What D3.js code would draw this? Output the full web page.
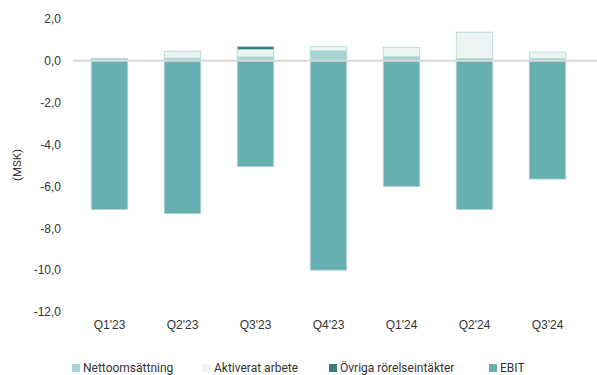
<!DOCTYPE html>
<html>
<head>
<meta charset="utf-8">
<script src="https://cdn.jsdelivr.net/npm/d3@7"></script>
<style>
  html, body { margin: 0; padding: 0; background: #fff; }
  svg { display: block; font-family: Roboto, "Noto Sans", sans-serif; }
</style>
</head>
<body>
<svg id="chart" width="597" height="375"></svg>
<script>
// Quarterly figures, MSEK
const quarters = ["Q1'23", "Q2'23", "Q3'23", "Q4'23", "Q1'24", "Q2'24", "Q3'24"];
const nettoomsattning = [0.12, 0.13, 0.19, 0.48, 0.20, 0.11, 0.12];
const aktiveratArbete = [0.00, 0.33, 0.35, 0.20, 0.44, 1.26, 0.30];
const ovrigaIntakter = [0.00, 0.00, 0.14, 0.00, 0.00, 0.00, 0.00];
const ebit = [-7.1, -7.3, -5.05, -10.0, -6.0, -7.1, -5.65];
const yTicks = [2, 0, -2, -4, -6, -8, -10, -12];

const seriesNames = ["Nettoomsättning", "Aktiverat arbete", "Övriga rörelseintäkter", "EBIT"];
const seriesKeys = ["netto", "aktiv", "ovriga", "ebit"];
const colors = ["#a7d3d3", "#eaf4f3", "#3f7b7b", "#66b0b2"];

const rows = quarters.map((q, i) => ({
  q,
  netto: nettoomsattning[i],
  aktiv: aktiveratArbete[i],
  ovriga: ovrigaIntakter[i],
  ebit: ebit[i]
}));

const svg = d3.select("#chart");

const x = d3.scaleBand()
  .domain(quarters)
  .range([73, 584])
  .paddingInner(0.5)
  .paddingOuter(0.25);

const y = d3.scaleLinear()
  .domain([-12, 2])
  .range([312, 19]);

const color = d3.scaleOrdinal().domain(seriesKeys).range(colors);

// Y tick labels
const yAxis = d3.axisLeft(y)
  .tickValues(yTicks)
  .tickSize(0)
  .tickPadding(0)
  .tickFormat(d => d.toFixed(1).replace(".", ","));

const gy = svg.append("g")
  .attr("transform", "translate(61,0)")
  .call(yAxis);
gy.select(".domain").remove();
gy.selectAll("text")
  .attr("fill", "#333")
  .style("font-size", "12px");

// Axis title
svg.append("text")
  .attr("transform", "translate(21,165) rotate(-90)")
  .attr("text-anchor", "middle")
  .attr("fill", "#333")
  .style("font-size", "11.5px")
  .text("(MSK)");

// Stacked bars
const stack = d3.stack()
  .keys(seriesKeys)
  .offset(d3.stackOffsetDiverging);
const stacked = stack(rows);

svg.append("g")
  .selectAll("g")
  .data(stacked)
  .join("g")
  .attr("fill", d => color(d.key))
  .selectAll("rect")
  .data(d => d.filter(p => p[1] - p[0] !== 0))
  .join("rect")
  .attr("x", d => x(d.data.q))
  .attr("width", x.bandwidth())
  .attr("y", d => y(Math.max(d[0], d[1])))
  .attr("height", d => Math.abs(y(d[0]) - y(d[1])))
  .attr("stroke", "#b4d6d6")
  .attr("stroke-width", 0.8);

// Zero line
svg.append("line")
  .attr("x1", 73)
  .attr("x2", 597)
  .attr("y1", y(0))
  .attr("y2", y(0))
  .attr("stroke", "#d9d9d9")
  .attr("stroke-width", 2);

// X axis labels
const xAxis = d3.axisBottom(x).tickSize(0).tickPadding(0);
const gx = svg.append("g")
  .attr("transform", "translate(0,320)")
  .call(xAxis);
gx.select(".domain").remove();
gx.selectAll("text")
  .attr("fill", "#333")
  .style("font-size", "12px");

// Legend
const legendX = [72, 203, 329, 489];
const legend = svg.append("g")
  .selectAll("g")
  .data(seriesNames)
  .join("g")
  .attr("transform", (d, i) => `translate(${legendX[i]},363)`);
legend.append("rect")
  .attr("width", 8)
  .attr("height", 8)
  .attr("y", 1)
  .attr("fill", (d, i) => colors[i]);
legend.append("text")
  .attr("x", 11)
  .attr("y", 9)
  .attr("fill", "#333")
  .style("font-size", "12px")
  .text(d => d);
</script>
</body>
</html>
